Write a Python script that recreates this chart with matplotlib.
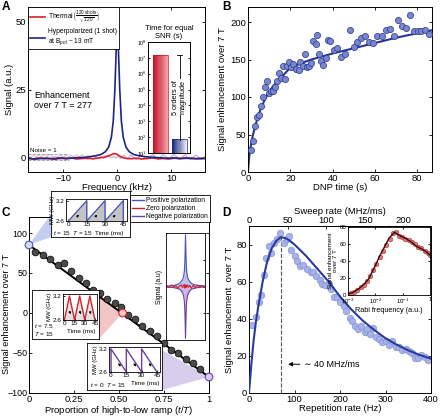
import numpy as np
import matplotlib.pyplot as plt
from matplotlib.lines import Line2D
from matplotlib.patches import Polygon
from matplotlib.colors import to_rgb

plt.rcParams['font.family'] = ['Liberation Sans', 'DejaVu Sans']
plt.rcParams['mathtext.fontset'] = 'custom'
plt.rcParams['mathtext.rm'] = 'Liberation Sans'
plt.rcParams['mathtext.it'] = 'Liberation Sans:italic'
plt.rcParams['mathtext.bf'] = 'Liberation Sans:bold'
plt.rcParams['font.size'] = 6.8
plt.rcParams['axes.labelsize'] = 6.8
plt.rcParams['axes.linewidth'] = 0.7
for k in ('xtick', 'ytick'):
    plt.rcParams[k + '.direction'] = 'in'
    plt.rcParams[k + '.major.size'] = 2.5
    plt.rcParams[k + '.major.width'] = 0.6
    plt.rcParams[k + '.major.pad'] = 1.5
    plt.rcParams[k + '.labelsize'] = 6.8
plt.rcParams['xtick.top'] = True
plt.rcParams['ytick.right'] = True

# ---------------- data ----------------
# A: spectra
freq = [-16.5, -15, -13.5, -12, -10.5, -9, -7.5, -6, -5, -4, -3, -2.2, -1.6, -1.1,
        -0.75, -0.45, -0.2, -0.1, 0, 0.1, 0.2, 0.45, 0.75, 1.1, 1.6, 2.2, 3, 4, 5,
        6, 7.5, 9, 10.5, 12, 13.5, 15, 16.5]
hyper = [-0.5, -0.7, -0.4, -0.6, -0.3, -0.5, -0.2, -0.1, 0.2, 0.5, 1.0, 2.0, 3.7, 7.3,
         13.3, 25.0, 40.0, 44.5, 47.0, 44.5, 40.0, 25.0, 13.3, 7.3, 3.7, 2.0, 1.0, 0.5, 0.2,
         0.0, -0.2, -0.4, -0.3, -0.5, -0.4, -0.6, -0.5]
freq_th = [-16.5, -15.5, -14.5, -13.5, -12.5, -11.5, -10.5, -9.5, -8.5, -7.5,
           -6.5, -5.5, -4.5, -3.5, -2.5, -1.8, -1.2, -0.6, -0.2, 0.2,
           0.6, 1.2, 1.8, 2.5, 3.5, 4.5, 5.5, 6.5, 7.5, 8.5,
           9.5, 10.5, 11.5, 12.5, 13.5, 14.5, 15.5, 16.5]
thermal = [-0.4, -0.7, -0.3, -0.6, -0.5, -0.8, -0.4, -0.6, -0.3, -0.7,
           -0.5, -0.4, -0.6, -0.3, -0.1, 0.3, 0.8, 1.3, 1.2, 0.7,
           0.2, -0.3, -0.5, -0.6, -0.4, -0.7, -0.5, -0.3, -0.6, -0.5,
           -0.7, -0.4, -0.6, -0.3, -0.5, -0.6, -0.4, -0.5]
noise_blue = [0.6, -1.0, 0.9, -0.8, 1.0, -0.5, 0.8, -1.1, 0.7, -0.6,
              0.9, -0.9, 0.5, -0.7, 0.4, 0.6, -0.3, 0.2, -0.4, 0.5,
              -0.6, 0.8, -0.7, 0.9, -1.0, 0.6, -0.8, 1.0, -0.5, 0.9,
              -0.7, 1.1, -0.9, 0.6, -1.0, 0.8, -0.6, 0.7]
noise_red = [-0.9, 0.7, -0.6, 1.0, -0.8, 0.5, -1.0, 0.8, -0.5, 0.9,
             -0.7, 0.6, -0.9, 0.8, -0.4, 0.5, -0.2, 0.3, -0.3, 0.4,
             -0.5, 0.7, -0.8, 0.6, -0.9, 1.0, -0.6, 0.7, -1.0, 0.8,
             -0.5, 0.9, -0.8, 1.0, -0.6, 0.7, -0.9, 0.5]
snr_time = [1.6e7, 66]   # thermal, hyperpolarized

# B: build-up
dnp_t = [1.4, 2.3, 3.1, 4.2, 5.2, 6.3, 6.9, 8.0, 8.9, 9.8, 10.8, 11.7, 12.7, 13.6,
         14.5, 15.5, 16.4, 17.3, 18.3, 19.5, 20.5, 21.4, 22.7, 23.9, 24.8, 25.8,
         27.0, 28.0, 28.9, 29.8, 30.8, 32.0, 32.7, 33.6, 34.5, 35.5, 36.7, 37.7,
         38.9, 40.5, 42.3, 44.2, 46.0, 48.3, 50.2, 51.7, 53.3, 55.2, 57.0, 58.9,
         61.1, 63.3, 65.2, 67.0, 68.9, 71.1, 73.0, 74.5, 76.4, 78.3, 80.2, 82.0,
         83.9, 85.8]
dnp_enh = [30, 42, 61, 73, 76, 88, 100, 113, 121, 105, 108, 108, 114, 121,
           132, 125, 142, 124, 142, 147, 140, 144, 138, 136, 147, 142,
           158, 140, 141, 145, 175, 171, 183, 157, 148, 143, 152, 176,
           175, 163, 166, 154, 158, 189, 167, 174, 179, 181, 174, 172,
           182, 181, 189, 191, 181, 203, 195, 192, 210, 188, 188, 188,
           190, 184]
fit_t = [0, 0.5, 1, 2, 3, 4, 5, 6, 8, 10, 12, 15, 20, 25, 30, 35, 40, 50, 60, 70, 80, 87]
fit_enh = [0, 18, 30, 45, 57, 67, 76, 84, 97, 107, 115, 124, 139, 145, 150, 154, 158,
           165, 172, 179, 185, 189]

# C: ramp proportion
ramp_frac = [0.035, 0.075, 0.115, 0.16, 0.195, 0.235, 0.275, 0.315, 0.355, 0.395,
             0.435, 0.475, 0.51, 0.55, 0.59, 0.63, 0.67, 0.71, 0.75, 0.79, 0.83,
             0.87, 0.91, 0.95]
ramp_enh = [76, 72, 67, 60, 62, 52, 44, 37, 29, 25, 17, 13, 7, -2, -8, -16, -22,
            -29, -37, -46, -50, -57, -62, -70]
ramp_line_x = [0, 1]
ramp_line_y = [85, -80]
marked_frac = [0, 0.52, 1]
marked_enh = [85, 0, -80]
wave_t = {'pos': [0, 15, 15, 30, 30, 45, 45],
          'zero': [0, 7.5, 15, 22.5, 30, 37.5, 45],
          'neg': [0, 0, 15, 15, 30, 30, 45]}
wave_f = {'pos': [2.6, 3.2, 2.6, 3.2, 2.6, 3.2, 2.6],
          'zero': [2.6, 3.2, 2.6, 3.2, 2.6, 3.2, 2.6],
          'neg': [2.6, 3.2, 2.6, 3.2, 2.6, 3.2, 2.6]}
sig_x = [-10, -8.5, -7, -6, -5, -4, -3, -2.2, -1.5, -1, -0.6, -0.3, 0, 0.3, 0.6, 1,
         1.5, 2.2, 3, 4, 5, 6, 7, 8.5, 10]
sig_pos = [0.01, 0.01, 0.02, 0.02, 0.03, 0.04, 0.06, 0.09, 0.13, 0.18, 0.28, 0.5, 0.97,
           0.5, 0.28, 0.18, 0.13, 0.09, 0.06, 0.04, 0.03, 0.02, 0.02, 0.01, 0.01]
sig_neg = [-0.01, -0.01, -0.02, -0.02, -0.03, -0.04, -0.05, -0.08, -0.12, -0.17, -0.27,
           -0.48, -0.97, -0.48, -0.27, -0.17, -0.12, -0.08, -0.05, -0.04, -0.03, -0.02,
           -0.02, -0.01, -0.01]
sig_zero = [0.02, -0.02, 0.03, -0.01, 0.02, -0.03, 0.01, 0.03, -0.02, 0.02, 0.04, -0.03,
            0.01, 0.03, -0.02, 0.03, -0.01, 0.02, -0.03, 0.02, -0.02, 0.03, -0.01, 0.02,
            -0.02]

# D: repetition rate
rep_rate = [6.6, 14.8, 21, 26.6, 32.5, 38, 44, 49.4, 54.6, 62, 68.6, 76.8, 82.7, 88.6,
            93, 102, 106, 112, 119.6, 127, 136, 141.7, 147.6, 155, 161, 168, 175, 180,
            186, 193, 200.7, 208, 214, 223, 227, 234, 240.6, 246.5, 254, 260, 265.7,
            272, 279, 285, 292, 300, 307, 314, 322, 329, 336.5, 344, 351, 359, 364.6,
            372, 379, 387, 394]
rep_enh = [36.4, 41, 49, 53, 63.5, 72.5, 79, 75.6, 81, 83, 86, 81, 83, 84.7,
           77, 74, 71, 68.5, 69, 66.7, 65, 65, 63, 61, 58.6, 58, 59, 56,
           52, 51.7, 49, 47, 44, 40.6, 39, 36, 34.6, 36, 33, 34.6, 32,
           35, 30, 29, 27.5, 28, 26, 28, 24.7, 25, 23, 23.5, 22.6, 21.7, 18.7,
           19, 20.5, 19.4, 17.6]
rep_fit = [0, 5, 10, 15, 20, 30, 40, 50, 60, 70, 80, 90, 100, 125, 150, 175, 200, 225,
           250, 275, 300, 325, 350, 375, 400]
enh_fit = [0, 15, 28, 38, 46, 60, 71, 78, 82, 84, 83.5, 82, 80, 74, 67, 60, 52, 45,
           39, 34, 29.5, 26, 23, 20.5, 18.5]
opt_rate = 70
sweep_per_hz = 0.59
rabi = [1.0e-3, 1.3e-3, 1.7e-3, 2.2e-3, 2.9e-3, 3.8e-3, 5.0e-3, 6.5e-3, 8.5e-3, 1.1e-2,
        1.45e-2, 1.9e-2, 2.5e-2, 3.3e-2, 4.3e-2, 5.6e-2, 7.3e-2, 9.5e-2, 0.125, 0.165,
        0.215, 0.28, 0.37, 0.48, 0.63, 0.82, 1.0]
rabi_enh = [1, 2, 4, 6, 9, 12, 17, 22, 30, 37, 45, 52, 59, 66, 73, 74, 70, 68, 66, 65,
            62, 60, 57, 55, 52, 49, 47]
rabi_fit = [1.0e-3, 1.55e-3, 2.4e-3, 3.7e-3, 5.75e-3, 7.6e-3, 1.02e-2, 1.35e-2, 1.82e-2,
            2.45e-2, 3.2e-2, 4.4e-2, 5.0e-2, 6.8e-2, 8.9e-2, 0.138, 0.214, 0.33, 0.51,
            0.79, 1.0]
rabi_fit_enh = [1, 3, 7, 12, 19, 27, 35, 44, 52, 60, 67, 72, 74, 71, 69, 66, 62, 57,
                54, 50, 47]

# ---------------- layout helpers ----------------
W, H = 440, 417


def px(l, t, r, b):
    return [l / W, 1 - b / H, (r - l) / W, (b - t) / H]


fig = plt.figure(figsize=(W / 100, H / 100), dpi=100)

# ---------------- panel A ----------------
axA = fig.add_axes(px(28, 7, 205, 172))
axA.plot(freq_th, noise_red, color='#f3a6a6', lw=0.6)
axA.plot(freq_th, noise_blue, color='#a9b4e6', lw=0.6)
axA.plot(freq_th, thermal, color='#d8202a', lw=1.2,
         label=r'Thermal$\left(\frac{120\ \mathrm{shots}}{\sqrt{120}}\right)$')
axA.plot(freq, hyper, color='#1c2585', lw=1.2,
         label='Hyperpolarized (1 shot)\nat B$_{pol}$ ~ 13 mT')
axA.plot([-16.5, -9], [1, 1], ls='--', color='#999999', lw=0.6)
axA.plot([-16.5, -9], [-1, -1], ls='--', color='#999999', lw=0.6)
axA.text(-16.2, 2.3, 'Noise = 1', fontsize=4.5, va='center')
axA.text(-15.4, 21, 'Enhancement\nover 7 T = 277', fontsize=6.5, va='center')
axA.set_xlim(-16.5, 16.2)
axA.set_ylim(-5.5, 55.5)
axA.set_xticks([-10, 0, 10])
axA.set_yticks([0, 25, 50])
axA.set_xlabel('Frequency (kHz)', labelpad=0)
axA.set_ylabel('Signal (a.u.)', labelpad=1)
legA = axA.legend(loc='upper left', fontsize=4.8, fancybox=False, edgecolor='black',
                  borderaxespad=0, handlelength=2.2, labelspacing=0.25, borderpad=0.35,
                  handletextpad=0.4, framealpha=1)
legA.get_frame().set_linewidth(0.6)

# inset: time for equal SNR
axAi = fig.add_axes(px(148, 42, 190, 153))
bar_cols = [('#c5102a', '#f4a2a8'), ('#1a237e', '#eceef9')]
n_slice = 14
bw = 0.79
for i, (h, (c0, c1)) in enumerate(zip(snr_time, bar_cols)):
    c0, c1 = np.array(to_rgb(c0)), np.array(to_rgb(c1))
    for k in range(n_slice):
        frac = k / (n_slice - 1)
        axAi.bar(i - bw / 2 + k * bw / n_slice, h, width=bw / n_slice, bottom=10,
                 align='edge', color=c0 + (c1 - c0) * frac, lw=0)
    axAi.bar(i, h, width=bw, bottom=10, fill=False, edgecolor=c0, lw=0.5)
axAi.plot([1, 1], [snr_time[1], snr_time[0]], color='black', lw=0.6)
axAi.plot([0.88, 1.12], [snr_time[0], snr_time[0]], color='black', lw=0.6)
axAi.text(1, np.sqrt(snr_time[0] * snr_time[1]), '5 orders of\nmagnitude', rotation=90,
          ha='center', va='center', fontsize=5.3, linespacing=1.1,
          bbox=dict(facecolor='white', edgecolor='none', pad=0.3))
axAi.set_yscale('log')
axAi.set_ylim(10, 1e8)
axAi.set_xlim(-0.66, 1.55)
axAi.set_xticks([])
axAi.set_yticks([10 ** e for e in range(1, 9)])
axAi.set_yticklabels(['$10^{%d}$' % e for e in range(1, 9)])
axAi.minorticks_off()
axAi.tick_params(axis='y', labelsize=3.8, length=1.5, pad=1)
axAi.set_title('Time for equal\nSNR (s)', fontsize=5.5, pad=3, linespacing=1.1)

# ---------------- panel B ----------------
axB = fig.add_axes(px(248, 7, 432, 172))
axB.plot(fit_t, fit_enh, color='#283593', lw=1.5, zorder=2)
axB.scatter(dnp_t, dnp_enh, s=20, facecolor='#7986cb', edgecolor='#283593', lw=0.5,
            zorder=3)
axB.set_xlim(0, 87)
axB.set_ylim(0, 220)
axB.set_xticks([0, 20, 40, 60, 80])
axB.set_yticks([0, 50, 100, 150, 200])
axB.set_xlabel('DNP time (s)', labelpad=0)
axB.set_ylabel('Signal enhancement over 7 T', labelpad=2)

# ---------------- panel C ----------------
c_pos, c_zero, c_neg = '#4a56b5', '#d8202a', '#6a3fa0'
axC = fig.add_axes(px(29, 217, 209, 393))
axC.plot(ramp_line_x, ramp_line_y, color='black', lw=1.4, zorder=2)
axC.scatter(ramp_frac, ramp_enh, s=24, facecolor='#4a4a4a', edgecolor='black', lw=0.5,
            zorder=3)
axC.scatter(marked_frac, marked_enh, s=30, facecolor=['#d5dbf5', '#f6c8c8', '#dccaf0'],
            edgecolor=[c_pos, c_zero, c_neg], lw=0.8, zorder=4, clip_on=False)
axC.set_xlim(0, 1)
axC.set_ylim(-100, 120)
axC.set_xticks([0, 0.25, 0.5, 0.75, 1])
axC.set_xticklabels(['0', '0.25', '0.50', '0.75', '1'])
axC.set_yticks([-100, -50, 0, 50, 100])
axC.tick_params(axis='y', labelsize=6.4, pad=1.2)
axC.set_xlabel('Proportion of high-to-low ramp ($t$/$T$)', labelpad=0)
axC.set_ylabel('Signal enhancement over 7 T', fontsize=6.6)
axC.yaxis.set_label_coords(-0.1, 0.45)

# waveform insets: outer frame box, inner axes, wedge target edge
insets = [
    dict(key='pos', color=c_pos, wedge='#c5cdf0', outer=(51, 191, 130, 237),
         inner=(66, 199, 127, 221), fill='#c4c4c4', arrow_up=True,
         label=(53, 233, '$t$ = 15  $T$ = 15'), time=(109, 233),
         edge=(51, 214, 51, 237)),
    dict(key='zero', color=c_zero, wedge='#f3c6c6', outer=(32, 290, 99, 339),
         inner=(63, 294, 97, 320), fill='#e2e2e2', arrow_up=False,
         label=(34, 330, '$t$ = 7.5\n$T$ = 15'), time=(81, 332),
         edge=(99, 295, 99, 339)),
    dict(key='neg', color=c_neg, wedge='#d9cdee', outer=(87, 343, 162, 390),
         inner=(109, 347, 160, 372), fill=None, arrow_up=False,
         label=(90, 385, '$t$ = 0  $T$ = 15'), time=(145, 383),
         edge=(162, 350, 162, 390)),
]
for m, ins in zip(zip(marked_frac, marked_enh), insets):
    # wedge from the marked point to the inset frame
    p = fig.transFigure.inverted().transform(axC.transData.transform(m))
    ex0, ey0, ex1, ey1 = ins['edge']
    wedge = Polygon([p, (ex0 / W, 1 - ey0 / H), (ex1 / W, 1 - ey1 / H)], closed=True,
                    transform=fig.transFigure, facecolor=ins['wedge'], edgecolor='none',
                    clip_on=False, zorder=1)
    axC.add_patch(wedge)

    frame = fig.add_axes(px(*ins['outer']))
    frame.set_xticks([])
    frame.set_yticks([])
    for s in frame.spines.values():
        s.set_linewidth(0.6)

    ai = fig.add_axes(px(*ins['inner']))
    t, f = wave_t[ins['key']], wave_f[ins['key']]
    if ins['fill']:
        ai.fill_between(t, 2.6, f, color=ins['fill'], lw=0)
    ai.plot(t, f, color=ins['color'], lw=1.0)
    for j in range(3):
        x0 = 15 * j + 5
        if ins['arrow_up']:
            ai.annotate('', xy=(x0 + 5, 2.85), xytext=(x0 + 1, 2.68),
                        arrowprops=dict(arrowstyle='-|>', color='black', lw=0.6,
                                        mutation_scale=3))
        else:
            ai.annotate('', xy=(x0 + 6, 2.68), xytext=(x0 + 1, 2.88),
                        arrowprops=dict(arrowstyle='-|>', color='black', lw=0.6,
                                        mutation_scale=3))
    ai.set_xlim(-2, 48)
    ai.set_ylim(2.6, 3.25)
    ai.set_xticks([0, 15, 30, 45])
    ai.set_yticks([2.6, 3.2])
    ai.tick_params(labelsize=4.6, length=1.2, pad=0.8, top=False, right=False)
    ai.set_ylabel('MW (GHz)', fontsize=4.3, labelpad=0.5)
    for s in ai.spines.values():
        s.set_linewidth(0.6)
    lx, ly, ltxt = ins['label']
    fig.text(lx / W, 1 - ly / H, ltxt, fontsize=4.6, va='center', linespacing=1.0)
    tx, ty = ins['time']
    fig.text(tx / W, 1 - ty / H, 'Time (ms)', fontsize=4.6, ha='center', va='center')

# signal inset
axCs = fig.add_axes(px(166, 233, 205, 340))
axCs.fill_between(sig_x, 0, sig_pos, color='#b9c3ee', lw=0)
axCs.fill_between(sig_x, 0, sig_neg, color='#cdb8e6', lw=0)
axCs.plot(sig_x, sig_pos, color=c_pos, lw=0.8)
axCs.plot(sig_x, sig_neg, color=c_neg, lw=0.8)
axCs.plot(sig_x, sig_zero, color=c_zero, lw=0.8)
axCs.set_xlim(-10, 10)
axCs.set_ylim(-1, 1)
axCs.set_xticks([])
axCs.set_yticks([-0.5, 0, 0.5])
axCs.set_yticklabels([])
axCs.tick_params(length=1.5, left=False)
axCs.set_ylabel('Signal (a.u)', fontsize=4.8, labelpad=1)
for s in axCs.spines.values():
    s.set_linewidth(0.6)

legC = fig.legend([Line2D([], [], color=c, lw=1.0) for c in (c_pos, c_zero, c_neg)],
                  ['Positive polarization', 'Zero polarization', 'Negative polarization'],
                  loc='upper left', bbox_to_anchor=(130 / W, 1 - 195 / H), fontsize=4.8,
                  fancybox=False, edgecolor='black', handlelength=1.8, borderpad=0.3,
                  labelspacing=0.15, handletextpad=0.3, borderaxespad=0, framealpha=1)
legC.get_frame().set_linewidth(0.6)

# ---------------- panel D ----------------
axD = fig.add_axes(px(249, 226, 431, 393))
axD.plot([opt_rate, opt_rate], [0, max(enh_fit)], ls='--', color='#555555', lw=0.8,
         zorder=1)
axD.scatter(rep_rate, rep_enh, s=22, facecolor='#a7b3e8', edgecolor='#8392d8', lw=0.5,
            zorder=2)
axD.plot(rep_fit, enh_fit, color='#2a3a9c', lw=1.5, zorder=3)
axD.annotate('\u223c 40 MHz/ms', xy=(80, 15.5), xytext=(121, 15.5), va='center',
             ha='left', fontsize=6.5,
             arrowprops=dict(arrowstyle='-|>', color='black', lw=0.7, mutation_scale=6,
                             shrinkA=1))
axD.set_xlim(0, 400)
axD.set_ylim(0, 90)
axD.set_xticks([0, 100, 200, 300, 400])
axD.set_yticks([0, 20, 40, 60, 80])
axD.tick_params(top=False)
axD.set_xlabel('Repetition rate (Hz)', labelpad=0)
axD.set_ylabel('Signal enhancement  over 7 T', labelpad=2)
secD = axD.secondary_xaxis('top', functions=(lambda r: r * sweep_per_hz,
                                             lambda s: s / sweep_per_hz))
secD.set_xticks([0, 50, 100, 150, 200])
secD.tick_params(direction='in', length=2.5, pad=1)
secD.set_xlabel('Sweep rate (MHz/ms)', labelpad=1.5)

axDi = fig.add_axes(px(348, 227, 430, 295))
axDi.plot(rabi_fit, rabi_fit_enh, color='#3a0808', lw=1.0, zorder=3)
axDi.scatter(rabi, rabi_enh, s=11, facecolor='#e07878', edgecolor='#b03434', lw=0.4,
             zorder=2)
axDi.set_xscale('log')
axDi.set_xlim(1e-3, 1)
axDi.set_ylim(0, 80)
axDi.set_xticks([1e-3, 1e-2, 1e-1, 1])
axDi.set_xticklabels(['$10^{-3}$', '$10^{-2}$', '$10^{-1}$', '1'])
axDi.set_yticks([0, 20, 40, 60, 80])
axDi.minorticks_off()
axDi.tick_params(labelsize=4.4, length=1.5, pad=1.2)
axDi.set_xlabel('Rabi frequency (a.u.)', fontsize=5.2, labelpad=0.5)
axDi.set_ylabel('Signal enhancement\nover 7 T', fontsize=4.5, labelpad=1, linespacing=1.0)
for s in axDi.spines.values():
    s.set_linewidth(0.6)

# panel letters
for letter, (x, y) in zip('ABCD', [(2, 7), (222, 7), (2, 213), (222, 213)]):
    fig.text(x / W, 1 - y / H, letter, fontsize=8.5, fontweight='bold', va='center')

fig.savefig('out.png', dpi=100)
